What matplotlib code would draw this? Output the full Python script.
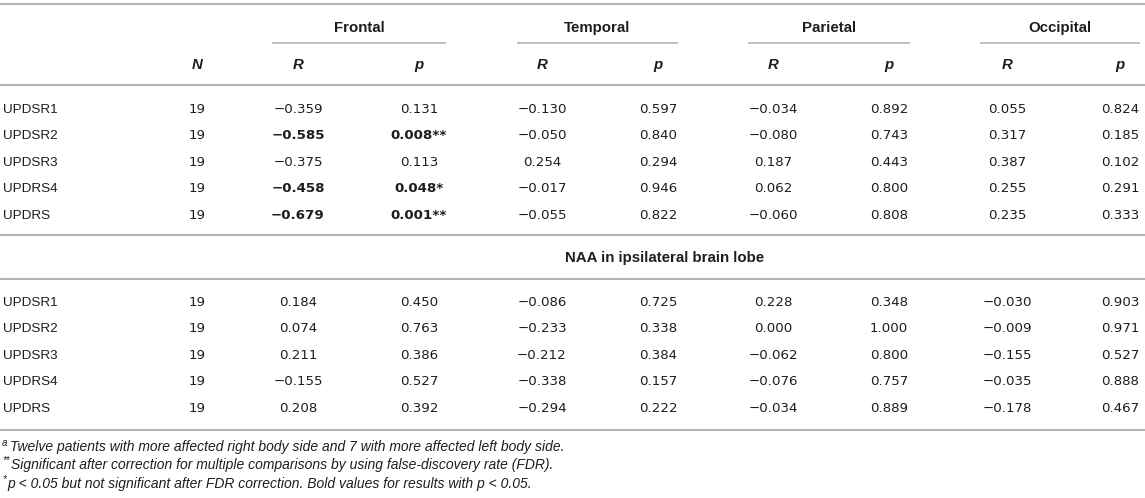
import matplotlib
matplotlib.use("Agg")
import matplotlib.pyplot as plt

plt.rcParams['font.family'] = ['Liberation Sans', 'DejaVu Sans']

# ---- data ----
lobes = ["Frontal", "Temporal", "Parietal", "Occipital"]
scales = ["UPDSR1", "UPDSR2", "UPDSR3", "UPDRS4", "UPDRS"]
n_pat = [19, 19, 19, 19, 19]

# first block (one list per lobe, one value per scale)
r_top = [[-0.359, -0.585, -0.375, -0.458, -0.679],
         [-0.130, -0.050, 0.254, -0.017, -0.055],
         [-0.034, -0.080, 0.187, 0.062, -0.060],
         [0.055, 0.317, 0.387, 0.255, 0.235]]
p_top = [[0.131, 0.008, 0.113, 0.048, 0.001],
         [0.597, 0.840, 0.294, 0.946, 0.822],
         [0.892, 0.743, 0.443, 0.800, 0.808],
         [0.824, 0.185, 0.102, 0.291, 0.333]]

# NAA in ipsilateral brain lobe
r_ipsi = [[0.184, 0.074, 0.211, -0.155, 0.208],
          [-0.086, -0.233, -0.212, -0.338, -0.294],
          [0.228, 0.000, -0.062, -0.076, -0.034],
          [-0.030, -0.009, -0.155, -0.035, -0.178]]
p_ipsi = [[0.450, 0.763, 0.386, 0.527, 0.392],
          [0.725, 0.338, 0.384, 0.157, 0.222],
          [0.348, 1.000, 0.800, 0.757, 0.889],
          [0.903, 0.971, 0.527, 0.888, 0.467]]

# significant after FDR correction (lobe, row) in the first block
fdr_sig = [(0, 1), (0, 4)]

section2 = "NAA in ipsilateral brain lobe"
notes = ["Twelve patients with more affected right body side and 7 with more affected left body side.",
         "Significant after correction for multiple comparisons by using false-discovery rate (FDR).",
         "p < 0.05 but not significant after FDR correction. Bold values for results with p < 0.05."]
note_marks = ["a", "**", "*"]

# ---- layout (pixel coords) ----
W, H = 1145, 498
fig = plt.figure(figsize=(W / 100, H / 100), dpi=100)
ax = fig.add_axes([0, 0, 1, 1])
ax.set_xlim(0, W)
ax.set_ylim(H, 0)
ax.axis("off")

txt = "#1e1e1e"
rule = "#b4b4b4"
fs_lab = 9.7
fs_head = 10.8
fs_num = 9.6
num_font = ['DejaVu Sans']

x_label = 3
x_n = 197
x_r = [298, 542, 773, 1007]
x_p = [419, 658, 889, 1120]
grp_lines = [(272, 446), (517, 678), (748, 910), (980, 1140)]


def hline(y, x0=0, x1=W, lw=1.5):
    ax.plot([x0, x1], [y, y], color=rule, lw=lw, solid_capstyle="butt")


def put(x, y, s, ha="center", fs=fs_lab, **kw):
    ax.text(x, y + fs * 0.5, s, ha=ha, va="baseline", fontsize=fs, color=txt, **kw)


def fmt(v):
    s = "%.3f" % abs(v)
    return ("\u2212" + s) if v < 0 else s


hline(4)
hline(85)
hline(235)
hline(279)
hline(430)

for i, lobe in enumerate(lobes):
    x0, x1 = grp_lines[i]
    put((x0 + x1) / 2, 27, lobe, fs=fs_head, fontweight="bold")
    hline(43, x0, x1, lw=1.2)
    put(x_r[i], 64, "R", fs=fs_head, fontweight="bold", style="italic")
    put(x_p[i], 64, "p", fs=fs_head, fontweight="bold", style="italic")
put(x_n, 64, "N", fs=fs_head, fontweight="bold", style="italic")

put(665, 257, section2, fs=fs_head, fontweight="bold")

blocks = [(108, r_top, p_top, True), (301, r_ipsi, p_ipsi, False)]
for y0, rr, pp, marks in blocks:
    for j, lab in enumerate(scales):
        y = y0 + j * 26.5
        put(x_label, y, lab, ha="left")
        put(x_n, y, str(n_pat[j]), fs=fs_num, family=num_font)
        for i in range(len(lobes)):
            p = pp[i][j]
            w = "bold" if p < 0.05 else "normal"
            ps = "%.3f" % p
            if marks and p < 0.05:
                ps += "**" if (i, j) in fdr_sig else "*"
            put(x_r[i], y, fmt(rr[i][j]), fs=fs_num, family=num_font, fontweight=w)
            put(x_p[i], y, ps, fs=fs_num, family=num_font, fontweight=w)

note_y = [446, 464, 483]
mark_w = [8, 9, 5]
for k, note in enumerate(notes):
    ax.text(2, note_y[k] - 0.5, note_marks[k], ha="left", va="baseline",
            fontsize=7, color=txt, style="italic")
    ax.text(2 + mark_w[k], note_y[k] + 5, note, ha="left", va="baseline",
            fontsize=10, color=txt, style="italic")

fig.savefig("out.png", dpi=100)
